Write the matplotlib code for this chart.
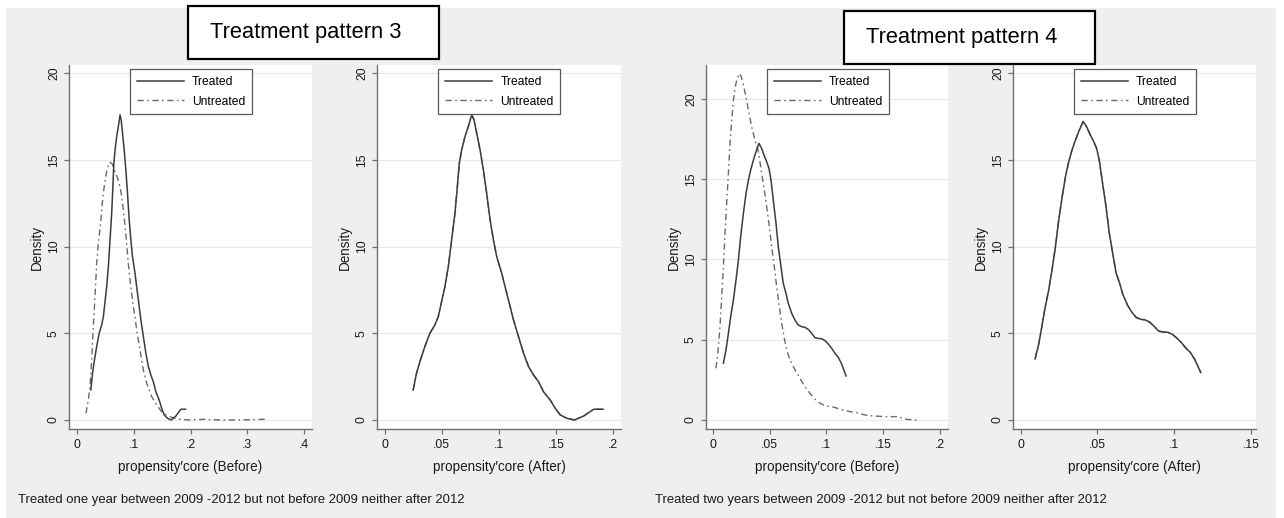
import matplotlib
matplotlib.use("Agg")
import matplotlib.pyplot as plt
from matplotlib.patches import Rectangle
from matplotlib import font_manager

# Prefer a narrow Arial-like face (reference text is condensed); fall back to Liberation Sans
try:
    font_manager.findfont(font_manager.FontProperties(family="Liberation Sans Narrow"),
                          fallback_to_default=False)
    FAMILY = "Liberation Sans Narrow"
    FS = 1.0
except Exception:
    FAMILY = "Liberation Sans"
    FS = 0.84
plt.rcParams['font.family'] = [FAMILY, 'DejaVu Sans']

# ---------------- data ----------------
# Treatment pattern 3 - treated group (same curve before/after matching)
p3_treated_x = [0.0249, 0.0278, 0.0308, 0.0351, 0.0395, 0.0439, 0.0469, 0.0498, 0.0527,
                0.0557, 0.0586, 0.0615, 0.0636, 0.0653, 0.0674, 0.0703, 0.0732, 0.0762,
                0.0782, 0.0806, 0.0835, 0.0864, 0.0893, 0.0923, 0.0952, 0.0981, 0.1025,
                0.1054, 0.1084, 0.1128, 0.1172, 0.1216, 0.1260, 0.1303, 0.1347, 0.1391,
                0.1450, 0.1494, 0.1538, 0.1596, 0.1661, 0.1743, 0.1831, 0.1913]
p3_treated_y = [1.73, 2.69, 3.37, 4.23, 5.00, 5.48, 5.96, 6.83, 7.69,
                8.85, 10.39, 11.93, 13.46, 14.81, 15.58, 16.35, 16.93, 17.60,
                17.31, 16.54, 15.58, 14.43, 13.08, 11.54, 10.39, 9.42, 8.46,
                7.69, 6.92, 5.77, 4.81, 3.85, 3.08, 2.60, 2.21, 1.63,
                1.15, 0.67, 0.29, 0.10, 0.0, 0.23, 0.62, 0.62]
# Treatment pattern 3 - untreated group before matching
p3_untreated_before_x = [0.0163, 0.0204, 0.0234, 0.0263, 0.0292, 0.0322, 0.0351, 0.0380,
                         0.0409, 0.0439, 0.0468, 0.0497, 0.0527, 0.0556, 0.0585, 0.0626,
                         0.0673, 0.0720, 0.0761, 0.0790, 0.0820, 0.0849, 0.0878, 0.0907,
                         0.0937, 0.0966, 0.0995, 0.1025, 0.1054, 0.1112, 0.1171, 0.1230,
                         0.1318, 0.1405, 0.1493, 0.1581, 0.1669, 0.1816, 0.1991, 0.2226,
                         0.2519, 0.2811, 0.3309]
p3_untreated_before_y = [0.38, 1.15, 1.92, 3.46, 5.39, 7.12, 9.04, 10.19,
                         10.96, 12.12, 13.08, 13.75, 14.33, 14.71, 14.87, 14.77,
                         14.33, 13.95, 13.46, 12.89, 12.12, 11.25, 10.19, 9.04,
                         8.08, 7.31, 6.54, 5.96, 5.19, 4.04, 2.89, 2.12,
                         1.35, 0.87, 0.48, 0.29, 0.15, 0.04, 0.0, 0.04,
                         0.0, 0.0, 0.04]
# after matching the untreated curve coincides with the treated one
p3_untreated_after_x = p3_treated_x
p3_untreated_after_y = p3_treated_y

# Treatment pattern 4 - treated group
p4_treated_x = [0.0094, 0.0117, 0.0138, 0.0158, 0.0182, 0.0205, 0.0226, 0.0246, 0.0270,
                0.0293, 0.0314, 0.0334, 0.0358, 0.0381, 0.0407, 0.0431, 0.0451, 0.0475,
                0.0495, 0.0513, 0.0533, 0.0557, 0.0577, 0.0601, 0.0621, 0.0645, 0.0665,
                0.0695, 0.0724, 0.0753, 0.0783, 0.0812, 0.0841, 0.0871, 0.0900, 0.0929,
                0.0959, 0.0988, 0.1017, 0.1047, 0.1076, 0.1105, 0.1135, 0.1173]
p4_treated_y = [3.53, 4.36, 5.39, 6.43, 7.47, 8.71, 9.96, 11.41, 12.86,
                14.10, 14.93, 15.56, 16.18, 16.70, 17.22, 16.90, 16.49, 16.08,
                15.66, 14.93, 13.69, 12.24, 10.79, 9.54, 8.50, 7.88, 7.26,
                6.64, 6.22, 5.91, 5.81, 5.77, 5.64, 5.39, 5.12, 5.08,
                5.06, 4.94, 4.73, 4.46, 4.15, 3.90, 3.48, 2.74]
# Treatment pattern 4 - untreated group before matching
p4_untreated_before_x = [0.0029, 0.0047, 0.0064, 0.0079, 0.0094, 0.0108, 0.0123, 0.0138,
                         0.0152, 0.0167, 0.0182, 0.0196, 0.0211, 0.0234, 0.0252, 0.0270,
                         0.0290, 0.0314, 0.0343, 0.0372, 0.0402, 0.0431, 0.0454, 0.0475,
                         0.0498, 0.0519, 0.0542, 0.0563, 0.0586, 0.0607, 0.0630, 0.0651,
                         0.0680, 0.0709, 0.0739, 0.0768, 0.0812, 0.0856, 0.0900, 0.0944,
                         0.0997, 0.1047, 0.1097, 0.1149, 0.1208, 0.1267, 0.1340, 0.1413,
                         0.1531, 0.1620, 0.1707, 0.1795]
p4_untreated_before_y = [3.22, 4.36, 5.81, 7.67, 9.54, 11.62, 13.48, 15.35,
                         17.22, 18.67, 19.91, 20.64, 21.16, 21.57, 21.36, 20.85,
                         20.22, 19.29, 18.25, 17.42, 16.70, 15.35, 14.31, 13.28,
                         12.03, 10.79, 9.54, 8.30, 7.05, 6.02, 5.08, 4.36,
                         3.73, 3.32, 2.95, 2.59, 2.07, 1.66, 1.29, 1.04,
                         0.87, 0.83, 0.73, 0.62, 0.52, 0.46, 0.31, 0.25,
                         0.21, 0.21, 0.04, 0.0]
p4_untreated_after_x = p4_treated_x
p4_untreated_after_y = p4_treated_y

y_ticks = [0, 5, 10, 15, 20]
y_tick_labels = ["0", "5", "10", "15", "20"]
x_ticks_wide = [0, 0.1, 0.2, 0.3, 0.4]
x_tick_labels_wide = ["0", ".1", ".2", ".3", ".4"]
x_ticks_mid = [0, 0.05, 0.1, 0.15, 0.2]
x_tick_labels_mid = ["0", ".05", ".1", ".15", ".2"]
x_ticks_narrow = [0, 0.05, 0.1, 0.15]
x_tick_labels_narrow = ["0", ".05", ".1", ".15"]

legend_labels = ["Treated", "Untreated"]
x_label_before = "propensity\u2032core (Before)"
x_label_after = "propensity\u2032core (After)"
group_titles = ["Treatment pattern 3", "Treatment pattern 4"]
captions = ["Treated one year between 2009 -2012 but not before 2009 neither after 2012",
            "Treated two years between 2009 -2012 but not before 2009 neither after 2012"]

# ---------------- layout ----------------
W, H = 1284, 518
fig = plt.figure(figsize=(W / 100, H / 100), dpi=100)
fig.patch.set_facecolor("white")

def fx(px):
    return px / W

def fy(py):
    return 1 - py / H

BG = "#efefef"
fig.patches.append(Rectangle((fx(6), 0), fx(1276) - fx(6), fy(8), transform=fig.transFigure,
                             facecolor=BG, edgecolor="none", zorder=-10))

TREAT_C = "#3c3c3c"
UNTREAT_C = "#6a6a6a"
SPINE_C = "#707070"
GRID_C = "#e9e9e9"
TEXT_C = "#1a1a1a"
DASHDOT = (0, (4.5, 2.5, 1.2, 2.5))

panels = [
    dict(px=(69, 312), xlim=(-0.0135, 0.4135), ylim=(-0.52, 20.48),
         xt=x_ticks_wide, xtl=x_tick_labels_wide, xlabel=x_label_before,
         tx=p3_treated_x, ty=p3_treated_y, ux=p3_untreated_before_x, uy=p3_untreated_before_y),
    dict(px=(377, 621), xlim=(-0.0068, 0.207), ylim=(-0.52, 20.48),
         xt=x_ticks_mid, xtl=x_tick_labels_mid, xlabel=x_label_after,
         tx=p3_treated_x, ty=p3_treated_y, ux=p3_untreated_after_x, uy=p3_untreated_after_y),
    dict(px=(706, 948), xlim=(-0.0059, 0.207), ylim=(-0.56, 22.1),
         xt=x_ticks_mid, xtl=x_tick_labels_mid, xlabel=x_label_before,
         tx=p4_treated_x, ty=p4_treated_y, ux=p4_untreated_before_x, uy=p4_untreated_before_y),
    dict(px=(1013, 1256), xlim=(-0.0050, 0.1533), ylim=(-0.52, 20.48),
         xt=x_ticks_narrow, xtl=x_tick_labels_narrow, xlabel=x_label_after,
         tx=p4_treated_x, ty=p4_treated_y, ux=p4_untreated_after_x, uy=p4_untreated_after_y),
]

AX_TOP, AX_BOT = 65, 429
for p in panels:
    l, r = p["px"]
    w_px = r - l
    h_px = AX_BOT - AX_TOP
    ax = fig.add_axes([fx(l), fy(AX_BOT), fx(r) - fx(l), h_px / H])
    ax.set_facecolor("white")
    for s in ("top", "right"):
        ax.spines[s].set_visible(False)
    for s in ("left", "bottom"):
        ax.spines[s].set_color(SPINE_C)
        ax.spines[s].set_linewidth(1.0)
    ax.set_xlim(*p["xlim"])
    ax.set_ylim(*p["ylim"])
    ax.set_xticks(p["xt"])
    ax.set_xticklabels(p["xtl"])
    ax.set_yticks(y_ticks)
    ax.set_yticklabels(y_tick_labels, rotation=90, va="center")
    ax.tick_params(axis="both", direction="out", length=3.5, width=0.9, color=SPINE_C,
                   labelsize=10.5 * FS, labelcolor=TEXT_C)
    ax.tick_params(axis="x", pad=4.0)
    ax.tick_params(axis="y", pad=3.0)
    ax.yaxis.grid(True, color=GRID_C, linewidth=0.9)
    ax.set_axisbelow(True)

    lu, = ax.plot(p["ux"], p["uy"], color=UNTREAT_C, linestyle=DASHDOT, linewidth=1.0, zorder=2)
    lt, = ax.plot(p["tx"], p["ty"], color=TREAT_C, linestyle="-", linewidth=1.1, zorder=3)

    ax.set_xlabel(p["xlabel"], fontsize=11.6 * FS, color=TEXT_C, va="center")
    ax.xaxis.set_label_coords(0.5, -(466.5 - AX_BOT) / h_px)
    ax.set_ylabel("Density", fontsize=11.6 * FS, color=TEXT_C, va="center")
    ax.yaxis.set_label_coords(-32.5 / w_px, 0.5)

    leg = ax.legend([lt, lu], legend_labels, loc="upper left",
                    bbox_to_anchor=(0.252, (AX_BOT - 69.5) / h_px),
                    fontsize=10.4 * FS, frameon=True, fancybox=False, shadow=False,
                    handlelength=3.9, handletextpad=0.65, borderpad=0.55,
                    labelspacing=0.62, borderaxespad=0.0)
    fr = leg.get_frame()
    fr.set_edgecolor("#5a5a5a")
    fr.set_linewidth(0.9)
    fr.set_facecolor("white")
    fr.set_alpha(1.0)

# ---------------- group titles in boxes ----------------
boxes = [(188, 6, 439, 59, 210, 32.5), (844, 11, 1095, 64, 866, 37.5)]
for (bx0, by0, bx1, by1, tx0, tyc), title in zip(boxes, group_titles):
    fig.patches.append(Rectangle((fx(bx0), fy(by1)), fx(bx1) - fx(bx0), fy(by0) - fy(by1),
                                 transform=fig.transFigure, facecolor="white",
                                 edgecolor="black", linewidth=1.6, zorder=5))
    fig.text(fx(tx0), fy(tyc), title, fontsize=18.8 * FS, color="black",
             ha="left", va="center", zorder=6)

# ---------------- captions ----------------
fig.text(fx(18), fy(500), captions[0], fontsize=11.2 * FS, color=TEXT_C, ha="left", va="center")
fig.text(fx(655), fy(500), captions[1], fontsize=11.2 * FS, color=TEXT_C, ha="left", va="center")

fig.savefig("out.png", dpi=100, facecolor=fig.get_facecolor())
